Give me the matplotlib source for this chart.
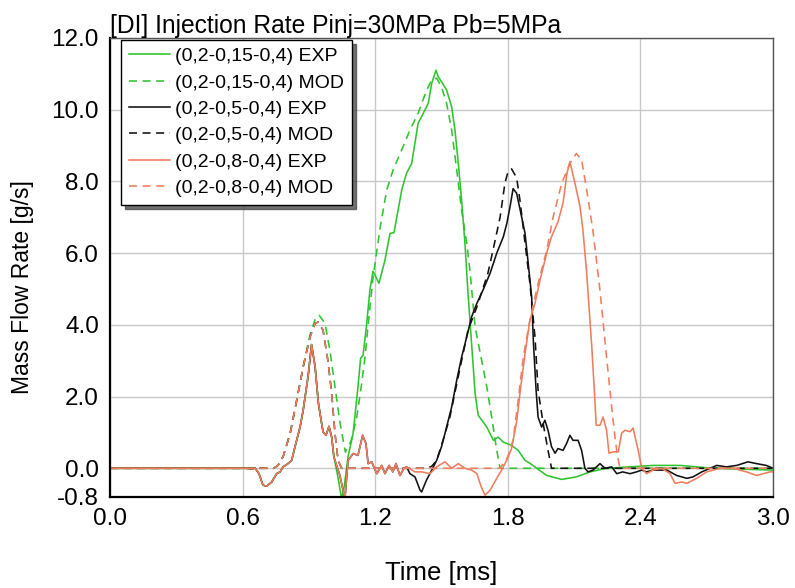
import numpy as np
import matplotlib.pyplot as plt

# ---- data ----
# shared pilot injection (measured), 0 .. 1.013 ms
pilot_exp_t = [0.0, 0.62, 0.645, 0.656, 0.674, 0.692, 0.709, 0.732, 0.754, 0.77, 0.783,
               0.801, 0.822, 0.837, 0.86, 0.874, 0.896, 0.912, 0.928, 0.943, 0.964,
               0.977, 0.991, 1.003, 1.013]
pilot_exp_v = [0.0, 0.0, -0.02, 0.01, -0.15, -0.47, -0.5, -0.38, -0.15, -0.1, 0.04,
               0.11, 0.22, 0.6, 1.15, 1.62, 2.55, 3.45, 2.83, 1.81, 1.01,
               0.92, 1.17, 0.87, 0.32]

green_exp_t = [1.03, 1.048, 1.06, 1.077, 1.1, 1.122, 1.134, 1.145, 1.16, 1.176, 1.19,
               1.217, 1.244, 1.267, 1.285, 1.32, 1.342, 1.365, 1.394, 1.425, 1.44,
               1.456, 1.475, 1.485, 1.5, 1.523, 1.546, 1.561, 1.576, 1.591, 1.606,
               1.62, 1.636, 1.652, 1.666, 1.705, 1.735, 1.756, 1.78, 1.817, 1.847,
               1.878, 1.9, 1.976, 2.044, 2.11, 2.172, 2.247, 2.457, 2.58, 2.73, 3.0]
green_exp_v = [-0.2, -0.85, -0.5, 0.32, 0.97, 2.27, 3.07, 3.15, 3.94, 4.97, 5.5,
               5.16, 5.8, 6.55, 6.57, 7.76, 8.23, 8.5, 9.62, 9.99, 10.18,
               10.74, 11.1, 10.92, 10.78, 10.55, 10.08, 9.43, 8.5, 7.48, 6.28,
               4.88, 3.49, 2.09, 1.48, 1.15, 0.78, 0.87, 0.73, 0.64, 0.5,
               0.22, 0.14, -0.2, -0.31, -0.24, -0.1, 0.0, 0.08, 0.08, 0.0, -0.05]

# black and orange measured curves coincide until ~1.34 ms
mid_exp_t = [1.04, 1.063, 1.077, 1.1, 1.122, 1.143, 1.158, 1.168, 1.184, 1.207, 1.229,
             1.244, 1.263, 1.28, 1.294, 1.312, 1.33, 1.342]
mid_exp_v = [-0.2, -0.85, 0.22, 0.41, 0.36, 0.92, 0.69, 0.13, 0.18, -0.15, 0.08,
             -0.15, 0.08, -0.1, 0.13, -0.2, 0.0, 0.04]

black_exp_t = [1.357, 1.38, 1.403, 1.41, 1.432, 1.456, 1.478, 1.5, 1.523, 1.546, 1.569,
               1.591, 1.614, 1.636, 1.66, 1.69, 1.72, 1.75, 1.78, 1.796, 1.81, 1.824,
               1.84, 1.863, 1.878, 1.891, 1.908, 1.916, 1.928, 1.937, 1.953, 1.968,
               1.982, 1.998, 2.014, 2.027, 2.05, 2.066, 2.081, 2.095, 2.118, 2.134,
               2.149, 2.163, 2.186, 2.217, 2.24, 2.27, 2.293, 2.32, 2.353, 2.383,
               2.406, 2.428, 2.457, 2.52, 2.564, 2.61, 2.638, 2.678, 2.715, 2.745,
               2.79, 2.836, 2.887, 2.926, 2.97, 3.0]
black_exp_v = [-0.15, -0.24, -0.61, -0.66, -0.33, -0.05, 0.22, 0.6, 1.15, 1.71, 2.46,
               3.1, 3.66, 4.22, 4.6, 5.0, 5.44, 6.0, 6.46, 6.84, 7.29, 7.8,
               7.67, 7.0, 6.55, 5.8, 4.78, 3.5, 2.18, 1.43, 1.15, 1.34,
               1.06, 0.6, 0.42, 0.55, 0.5, 0.69, 0.92, 0.78, 0.78, 0.5,
               0.0, -0.1, -0.05, 0.13, 0.0, 0.04, -0.15, -0.1, -0.15, -0.1,
               -0.05, -0.1, -0.05, -0.05, -0.2, -0.28, -0.24, -0.1, 0.0, 0.08,
               0.04, 0.08, 0.18, 0.13, 0.08, 0.0]

orange_exp_t = [1.38, 1.41, 1.448, 1.478, 1.516, 1.546, 1.576, 1.606, 1.636, 1.66, 1.68,
                1.697, 1.72, 1.75, 1.772, 1.795, 1.817, 1.84, 1.855, 1.878, 1.9,
                1.923, 1.946, 1.976, 1.998, 2.027, 2.05, 2.068, 2.081, 2.104, 2.127,
                2.14, 2.157, 2.18, 2.195, 2.2, 2.217, 2.231, 2.247, 2.258, 2.276,
                2.3, 2.315, 2.33, 2.353, 2.367, 2.39, 2.406, 2.428, 2.457, 2.496,
                2.534, 2.557, 2.587, 2.61, 2.655, 2.7, 2.76, 2.82, 2.88, 2.926,
                2.986, 3.0]
orange_exp_v = [-0.1, -0.1, -0.15, 0.04, 0.18, 0.0, 0.13, 0.0, -0.05, -0.15, -0.52,
                -0.75, -0.61, -0.28, -0.05, 0.22, 0.55, 1.3, 2.09, 3.2, 4.13,
                4.6, 5.25, 6.0, 6.46, 6.87, 7.4, 8.23, 8.55, 7.95, 7.29,
                6.64, 5.44, 3.39, 1.81, 1.2, 1.2, 1.43, 1.06, 0.42, 0.46,
                0.46, 0.98, 1.06, 1.02, 1.12, 0.5, 0.0, -0.15, -0.05, 0.0,
                -0.15, -0.42, -0.38, -0.42, -0.28, -0.1, 0.0, 0.0, -0.1, -0.2,
                -0.1, -0.1]

# model curves
pilot_mod_t = [0.0, 0.74, 0.76, 0.783, 0.815, 0.845, 0.874, 0.905, 0.928, 0.941, 0.964,
               0.986, 1.003, 1.018, 1.032, 1.048]
pilot_mod_v = [0.0, 0.0, 0.08, 0.32, 0.97, 1.9, 2.83, 3.66, 4.04, 4.08, 3.85,
               3.0, 2.09, 0.97, 0.22, 0.0]

green_mod_t = [0.0, 0.74, 0.76, 0.783, 0.815, 0.845, 0.874, 0.905, 0.928, 0.946, 0.973,
               0.995, 1.018, 1.041, 1.065, 1.09, 1.116, 1.139, 1.154, 1.167, 1.19,
               1.222, 1.252, 1.281, 1.32, 1.357, 1.394, 1.433, 1.456, 1.478, 1.5,
               1.523, 1.546, 1.569, 1.591, 1.614, 1.629, 1.652, 1.682, 1.705, 1.727,
               1.75, 1.765, 3.0]
green_mod_v = [0.0, 0.0, 0.08, 0.32, 0.97, 1.9, 2.83, 3.72, 4.15, 4.27, 4.04,
               3.29, 2.27, 1.25, 0.45, 0.75, 1.4, 2.37, 3.1, 3.94, 5.3,
               6.7, 7.76, 8.32, 8.88, 9.43, 9.9, 10.55, 10.83, 10.88, 10.64,
               10.18, 9.43, 8.32, 7.2, 6.28, 5.5, 3.94, 3.0, 2.27, 1.43,
               0.5, 0.0, 0.0]

black_mod_t = [1.43, 1.455, 1.478, 1.507, 1.538, 1.56, 1.591, 1.62, 1.66, 1.69, 1.71,
               1.733, 1.765, 1.787, 1.8, 1.817, 1.84, 1.855, 1.878, 1.9, 1.923,
               1.937, 1.96, 1.982, 1.998, 3.0]
black_mod_v = [0.0, 0.05, 0.22, 0.78, 1.43, 2.09, 3.0, 3.85, 4.5, 5.06, 5.44,
               6.08, 7.0, 7.95, 8.25, 8.35, 8.1, 7.48, 6.28, 5.16, 3.66,
               2.18, 1.25, 0.5, 0.0, 0.0]

orange_mod_t = [1.765, 1.8, 1.824, 1.847, 1.87, 1.9, 1.937, 1.976, 2.005, 2.044, 2.081,
                2.11, 2.134, 2.157, 2.185, 2.217, 2.247, 2.27, 2.285, 2.297, 2.308, 3.0]
orange_mod_v = [0.0, 0.32, 0.78, 1.9, 3.1, 4.13, 5.15, 6.08, 7.0, 7.95, 8.5,
                8.78, 8.6, 7.76, 6.64, 4.97, 3.1, 1.71, 0.87, 0.32, 0.0, 0.0]

labels = ["(0,2-0,15-0,4) EXP", "(0,2-0,15-0,4) MOD",
          "(0,2-0,5-0,4) EXP", "(0,2-0,5-0,4) MOD",
          "(0,2-0,8-0,4) EXP", "(0,2-0,8-0,4) MOD"]
xticks = [0.0, 0.6, 1.2, 1.8, 2.4, 3.0]
yticks = [-0.8, 0.0, 2.0, 4.0, 6.0, 8.0, 10.0, 12.0]

GREEN = '#2fc42f'
BLACK = '#111111'
ORANGE = '#ef7d5e'
plain = ['Liberation Sans', 'DejaVu Sans']

fig = plt.figure(figsize=(7.95, 5.88), dpi=100)
ax = fig.add_axes([0.1384, 0.1548, 0.8339, 0.7806])

dash = (0, (5, 3.5))
ax.plot(pilot_exp_t + green_exp_t, pilot_exp_v + green_exp_v,
        color=GREEN, lw=1.15, label=labels[0])
ax.plot(green_mod_t, green_mod_v, color=GREEN, lw=1.15, ls=dash, label=labels[1])
ax.plot(pilot_exp_t + mid_exp_t + black_exp_t, pilot_exp_v + mid_exp_v + black_exp_v,
        color=BLACK, lw=1.15, label=labels[2])
ax.plot(pilot_mod_t + black_mod_t, pilot_mod_v + black_mod_v,
        color=BLACK, lw=1.15, ls=dash, label=labels[3])
ax.plot(pilot_exp_t + mid_exp_t + orange_exp_t, pilot_exp_v + mid_exp_v + orange_exp_v,
        color=ORANGE, lw=1.15, label=labels[4])
ax.plot(pilot_mod_t + orange_mod_t, pilot_mod_v + orange_mod_v,
        color=ORANGE, lw=1.15, ls=dash, label=labels[5])

ax.set_xlim(0, 3.0)
ax.set_ylim(-0.8, 12.0)
ax.set_xticks(xticks)
ax.set_yticks(yticks)
ax.set_xticklabels([f"{v:.1f}" for v in xticks], family=plain, fontsize=17.5)
ax.set_yticklabels([f"{v:.1f}" for v in yticks], family=plain, fontsize=17.5)
ax.tick_params(length=0, pad=8)
ax.grid(True, color='#c8c8c8', lw=1.0)
ax.set_axisbelow(True)
for s in ['top', 'right']:
    ax.spines[s].set_color('#555555')
    ax.spines[s].set_linewidth(1.0)
for s in ['left', 'bottom']:
    ax.spines[s].set_color('black')
    ax.spines[s].set_linewidth(1.6)

ax.set_xlabel("Time [ms]", family=plain, fontsize=18.5, va='center')
ax.xaxis.set_label_coords(0.5, -0.165)
ax.set_ylabel("Mass Flow Rate [g/s]", family=plain, fontsize=16.5, va='center')
ax.yaxis.set_label_coords(-0.132, 0.457)
ax.set_title("[DI] Injection Rate Pinj=30MPa Pb=5MPa", loc='left', family=plain,
             fontsize=17.7, pad=3)

leg = ax.legend(loc='upper left', bbox_to_anchor=(0.017, 0.996), fancybox=False,
                shadow={'color': '0.3', 'ox': 3, 'oy': -3, 'alpha': 0.8}, framealpha=1,
                edgecolor='black', handlelength=2.1, handletextpad=0.25,
                labelspacing=0.45, borderpad=0.4, borderaxespad=0,
                prop={'family': plain, 'size': 14})
leg.get_frame().set_linewidth(1.0)

plt.savefig("out.png", dpi=100)
